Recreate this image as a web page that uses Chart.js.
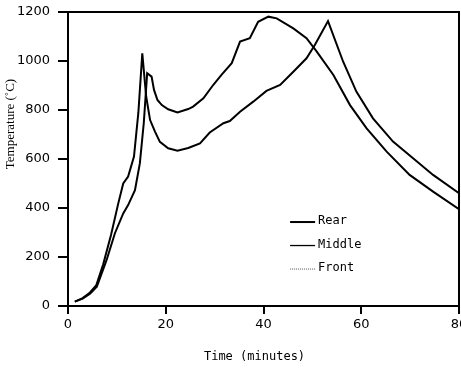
<!DOCTYPE html>
<html>
<head>
<meta charset="utf-8">
<script src="https://cdn.jsdelivr.net/npm/chart.js@4.4.0/dist/chart.umd.min.js"></script>
<style>
  body { margin: 0; background: #fff; }
</style>
</head>
<body>
<canvas id="chart" width="461" height="369"></canvas>
<script>
// values (time in minutes, temperature in deg C)
const seriesNames = ["Rear", "Middle", "Front"];

const rearTime = [1.4, 3, 4.5, 5.8, 7.2, 8.8, 10.3, 11.3, 12.3, 13.5, 14.4, 15.2,
  16, 16.8, 17.8, 18.8, 20.5, 22.4, 24.6, 27, 29, 31.8, 33.1, 35.2, 37.9, 40.6,
  43.4, 46.1, 48.8, 50.5, 53.2, 56.3, 59, 62.4, 66.5, 70.6, 74.7, 80];
const rearTemp = [18, 32, 55, 85, 170, 290, 420, 500, 528, 610, 790, 1031,
  854, 759, 712, 670, 644, 634, 645, 664, 708, 746, 755, 793, 834, 878,
  902, 956, 1011, 1065, 1163, 997, 875, 766, 671, 603, 535, 460];

const middleTime = [1.4, 3, 4.5, 5.9, 7.9, 9.6, 11.3, 12.3, 13.7, 14.7, 15.5, 16.2,
  17.1, 17.6, 18.3, 19.2, 20.5, 22.4, 24.6, 25.6, 27.7, 29.7, 31.4, 33.5, 35.2,
  37.2, 38.9, 41, 42.7, 46.1, 48.8, 50.9, 54.3, 57.7, 61.1, 65.2, 69.9, 74.7, 80];
const middleTemp = [18, 30, 50, 79, 188, 297, 378, 412, 473, 582, 746, 950,
  936, 882, 841, 820, 803, 790, 804, 814, 848, 902, 943, 991, 1079,
  1093, 1160, 1181, 1174, 1133, 1093, 1038, 943, 820, 725, 630, 535, 467, 395];

// the front trace is not visible in the picture, only its legend entry
const frontTime = [];
const frontTemp = [];

const xMin = 0, xMax = 80, xStep = 20;
const yMin = 0, yMax = 1200, yStep = 200;

function toPoints(ts, vs) {
  return ts.map((t, i) => ({ x: t, y: vs[i] }));
}

// top and right edges of the box
const framePlugin = {
  id: "frame",
  afterDatasetsDraw(chart) {
    const a = chart.chartArea;
    const ctx = chart.ctx;
    ctx.save();
    ctx.strokeStyle = "#000";
    ctx.lineWidth = 2;
    ctx.beginPath();
    ctx.moveTo(a.left, a.top);
    ctx.lineTo(a.right, a.top);
    ctx.lineTo(a.right, a.bottom);
    ctx.stroke();
    ctx.restore();
  },
};

// axis titles and the small legend inside the plot
const textPlugin = {
  id: "texts",
  afterDraw(chart) {
    const a = chart.chartArea;
    const ctx = chart.ctx;
    const w = a.right - a.left;
    const h = a.bottom - a.top;
    ctx.save();
    ctx.fillStyle = "#000";

    ctx.save();
    ctx.translate(11, a.top + 112);
    ctx.rotate(-Math.PI / 2);
    ctx.font = "13px 'Liberation Serif'";
    ctx.textAlign = "center";
    ctx.textBaseline = "middle";
    ctx.fillText("Temperature (\u02DAC)", 0, 0);
    ctx.restore();

    ctx.font = "12px 'DejaVu Sans Mono'";
    ctx.textAlign = "center";
    ctx.textBaseline = "middle";
    ctx.fillText("Time (minutes)", a.left + w * 0.477, a.bottom + 51);

    const lx = a.left + w * 0.568;
    chart.data.datasets.forEach((ds, i) => {
      const ly = a.top + h * 0.711 + i * 23.5;
      ctx.save();
      ctx.strokeStyle = ds.borderColor;
      ctx.lineWidth = ds.legendWidth;
      ctx.setLineDash(ds.borderDash || []);
      ctx.beginPath();
      ctx.moveTo(lx, ly + 1);
      ctx.lineTo(lx + 25, ly + 1);
      ctx.stroke();
      ctx.restore();
      ctx.font = "12px 'DejaVu Sans Mono'";
      ctx.textAlign = "left";
      ctx.fillText(ds.label, lx + 28, ly);
    });
    ctx.restore();
  },
};

const tickFont = { family: "'DejaVu Sans'", size: 13 };

new Chart(document.getElementById("chart"), {
  type: "line",
  data: {
    datasets: [
      {
        label: seriesNames[0],
        data: toPoints(rearTime, rearTemp),
        borderColor: "#000",
        borderWidth: 2,
        legendWidth: 2,
      },
      {
        label: seriesNames[1],
        data: toPoints(middleTime, middleTemp),
        borderColor: "#000",
        borderWidth: 2,
        legendWidth: 1.3,
      },
      {
        label: seriesNames[2],
        data: toPoints(frontTime, frontTemp),
        borderColor: "#555",
        borderWidth: 1,
        borderDash: [1, 1],
        legendWidth: 1,
      },
    ],
  },
  options: {
    responsive: false,
    animation: false,
    parsing: false,
    elements: {
      point: { radius: 0 },
      line: { tension: 0, fill: false },
    },
    layout: { padding: { top: 12, right: 2, left: 0, bottom: 0 } },
    plugins: {
      legend: { display: false },
      tooltip: { enabled: false },
    },
    scales: {
      x: {
        type: "linear",
        min: xMin,
        max: xMax,
        ticks: {
          stepSize: xStep, color: "#000", font: tickFont, padding: 3, maxRotation: 0,
          callback: (v) => String(v),
        },
        grid: { drawOnChartArea: false, tickLength: 8, lineWidth: 2, color: "#000" },
        border: { color: "#000", width: 2 },
        afterFit(s) {
          s.height = 63;
          s.paddingLeft = 0;
          s.paddingRight = 0;
        },
      },
      y: {
        min: yMin,
        max: yMax,
        ticks: {
          stepSize: yStep, color: "#000", font: tickFont, padding: 8,
          callback: (v) => String(v),
        },
        grid: { drawOnChartArea: false, tickLength: 10, lineWidth: 2, color: "#000" },
        border: { color: "#000", width: 2 },
        afterFit(s) {
          s.width = 68;
          s.paddingTop = 0;
          s.paddingBottom = 0;
        },
      },
    },
  },
  plugins: [framePlugin, textPlugin],
});
</script>
</body>
</html>
